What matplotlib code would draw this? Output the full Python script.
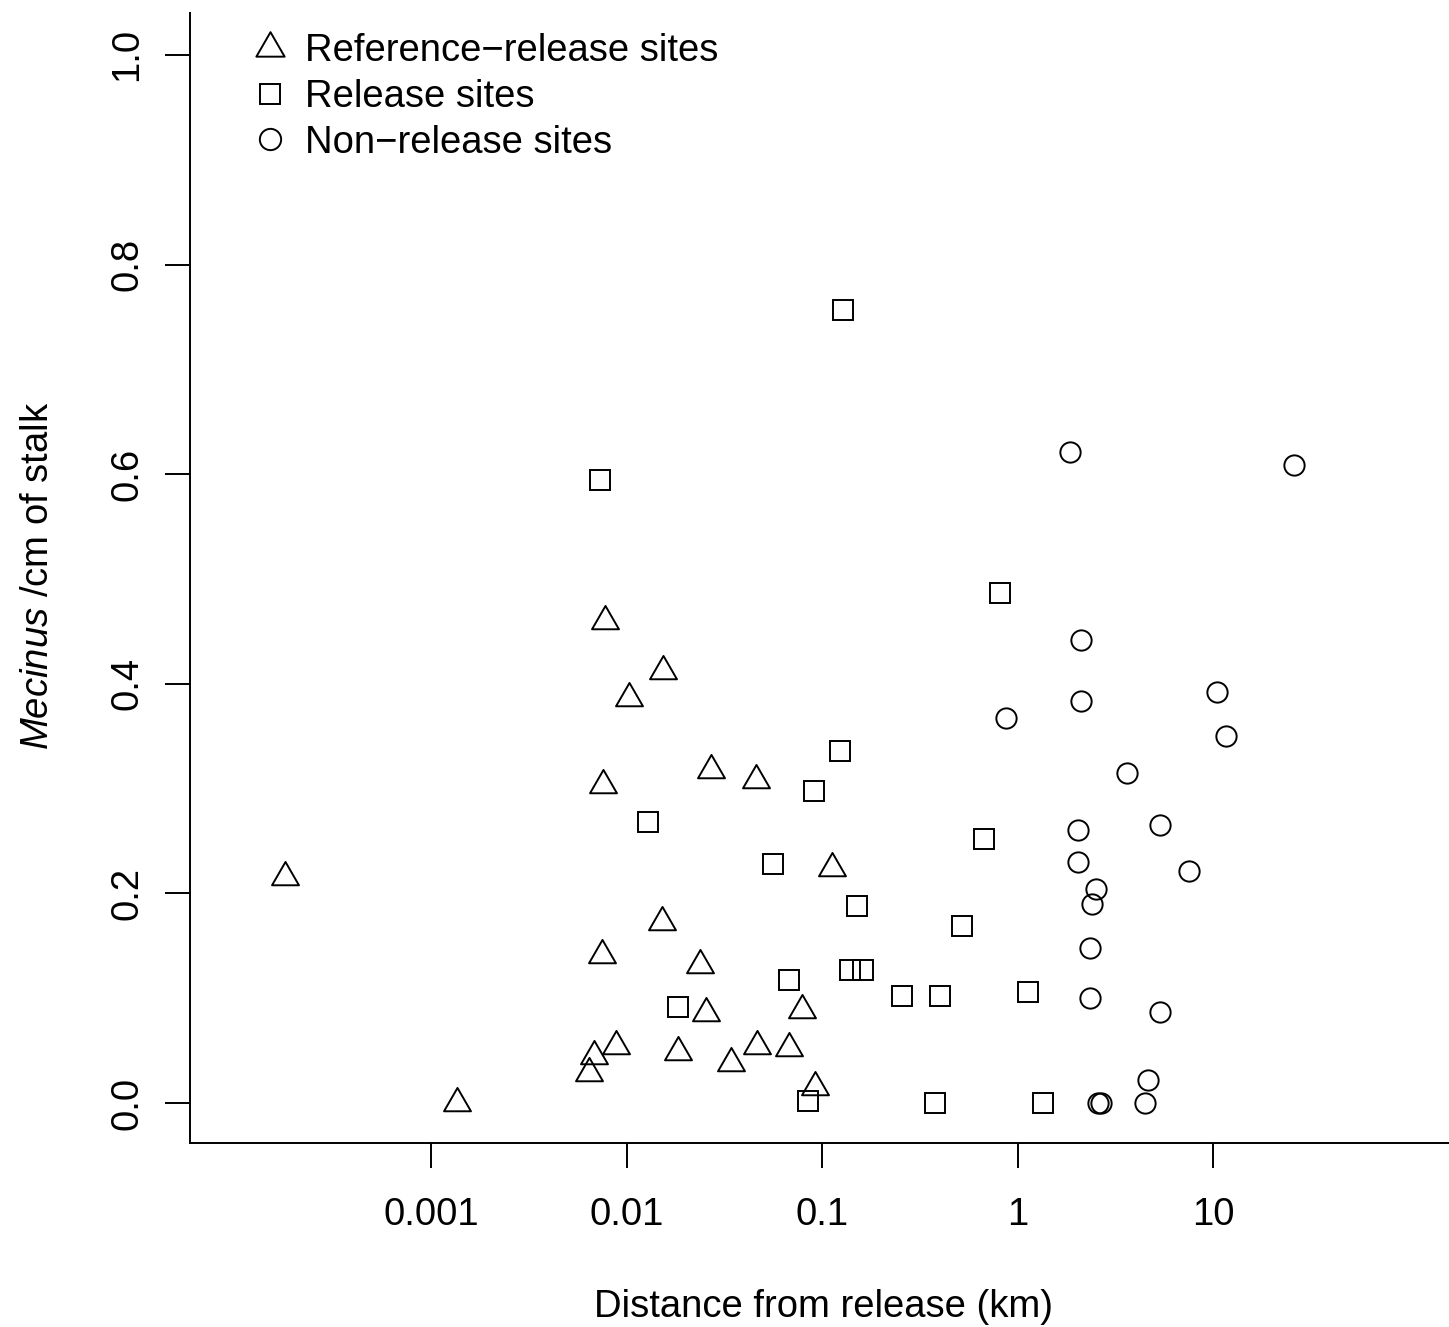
#Importing libraries
import matplotlib.pyplot as plt
from matplotlib.path import Path
from matplotlib.lines import Line2D
from matplotlib.ticker import NullLocator

plt.rcParams['font.family'] = ['Liberation Sans', 'DejaVu Sans']
plt.rcParams['mathtext.fontset'] = 'custom'
plt.rcParams['mathtext.rm'] = 'Liberation Sans'
plt.rcParams['mathtext.it'] = 'Liberation Sans:italic'

#Reference-release sites (triangles)
ref_distance = [0.00018, 0.00136, 0.0078, 0.0154, 0.0103, 0.0076, 0.027, 0.046,
                0.112, 0.0152, 0.0075, 0.0238, 0.0255, 0.079, 0.0088, 0.0068,
                0.0064, 0.0183, 0.0343, 0.0466, 0.068, 0.092]
ref_density = [0.216, 0.0, 0.460, 0.412, 0.386, 0.303, 0.318, 0.308,
               0.224, 0.173, 0.141, 0.132, 0.086, 0.089, 0.054, 0.045,
               0.029, 0.049, 0.038, 0.054, 0.052, 0.015]

#Release sites (squares)
rel_distance = [0.128, 0.0073, 0.81, 0.124, 0.091, 0.0129, 0.056, 0.675, 0.151, 0.52,
                0.139, 0.162, 0.068, 0.0183, 0.256, 0.40, 1.13, 0.085, 0.378, 1.35]
rel_density = [0.757, 0.594, 0.487, 0.336, 0.298, 0.268, 0.228, 0.252, 0.188, 0.169,
               0.127, 0.127, 0.117, 0.092, 0.102, 0.102, 0.106, 0.002, 0.0, 0.0]

#Non-release sites (circles)
non_distance = [1.86, 25.9, 2.11, 0.873, 2.11, 10.5, 11.6, 3.63, 2.04, 5.36, 2.04,
                2.52, 2.40, 7.54, 2.35, 2.35, 5.36, 4.65, 4.49, 2.58, 2.67]
non_density = [0.621, 0.609, 0.442, 0.367, 0.384, 0.392, 0.350, 0.315, 0.260, 0.265, 0.230,
               0.204, 0.190, 0.221, 0.148, 0.100, 0.087, 0.022, 0.0, 0.0, 0.0]

labels = ['Reference\u2212release sites', 'Release sites', 'Non\u2212release sites']
x_ticks = [0.001, 0.01, 0.1, 1, 10]
x_tick_labels = ['0.001', '0.01', '0.1', '1', '10']
y_ticks = [0.0, 0.2, 0.4, 0.6, 0.8, 1.0]
y_tick_labels = ['0.0', '0.2', '0.4', '0.6', '0.8', '1.0']

#Equilateral triangle centred on its centroid, like R's pch=2
triangle = Path([(0, 1), (-0.866, -0.5), (0.866, -0.5), (0, 1)],
                [Path.MOVETO, Path.LINETO, Path.LINETO, Path.CLOSEPOLY])

fs = 27.5
lw = 1.4
styles = [dict(marker=triangle, ms=22.4), dict(marker='s', ms=13.7), dict(marker='o', ms=14.6)]

fig = plt.figure(figsize=(14.49, 13.27), dpi=100)
ax = fig.add_axes([190 / 1449, 184 / 1327, 1259 / 1449, 1130 / 1327])

series = [(ref_distance, ref_density), (rel_distance, rel_density), (non_distance, non_density)]
for (xs, ys), st in zip(series, styles):
  ax.plot(xs, ys, linestyle='none', marker=st['marker'], ms=st['ms'],
          mfc='none', mec='black', mew=lw)

ax.set_xscale('log')
ax.set_xlim(5.85e-5, 161)
ax.set_ylim(-0.0382, 1.040)
ax.set_xticks(x_ticks)
ax.set_xticklabels(x_tick_labels)
ax.xaxis.set_minor_locator(NullLocator())
ax.set_yticks(y_ticks)
ax.set_yticklabels(y_tick_labels, rotation=90, va='center')

for side in ['top', 'right']:
  ax.spines[side].set_visible(False)
for side in ['left', 'bottom']:
  ax.spines[side].set_linewidth(lw)
ax.tick_params(axis='x', length=18, width=lw, labelsize=fs, pad=21)
ax.tick_params(axis='y', length=18, width=lw, labelsize=fs, pad=14)

ax.set_xlabel('Distance from release (km)', fontsize=fs, va='center')
ax.xaxis.set_label_coords(0.503, -0.1455)
ax.set_ylabel(r'$\mathit{Mecinus}$ /cm of stalk', fontsize=fs, va='center')
ax.yaxis.set_label_coords(-0.1207, 0.502)

#Legend
handles = [Line2D([], [], linestyle='none', marker=st['marker'], ms=st['ms'] * 1.05,
                  mfc='none', mec='black', mew=lw) for st in styles]
ax.legend(handles, labels, loc='upper left', bbox_to_anchor=(0.0485, 0.9823),
          frameon=False, fontsize=fs, handlelength=1.0, handletextpad=0.41,
          labelspacing=0.26, borderpad=0, borderaxespad=0)

fig.savefig('out.png', dpi=100)
